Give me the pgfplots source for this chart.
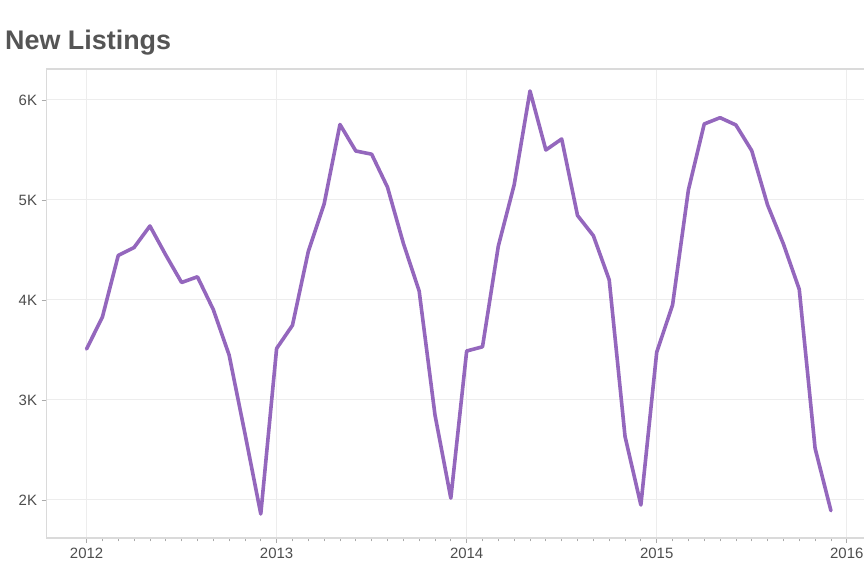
\documentclass[border=0pt]{standalone}
\usepackage{pgfplots}
\pgfplotsset{compat=1.18}
\usepackage{pgfplotstable}
\usepackage{fontspec}
\setmainfont{Liberation Sans}
\definecolor{linepurple}{HTML}{9467BD}
\definecolor{framegray}{HTML}{DADADA}
\definecolor{gridgray}{HTML}{EDEDED}
\definecolor{tickgray}{HTML}{AAAAAA}
\definecolor{ticktext}{HTML}{4D4D4D}
\definecolor{titlegray}{HTML}{555555}

% month index (0 = Jan 2012) and new listings
\pgfplotstableread{
m v
0 3510
1 3830
2 4445
3 4525
4 4740
5 4450
6 4175
7 4232
8 3905
9 3450
10 2665
11 1860
12 3515
13 3747
14 4485
15 4960
16 5755
17 5490
18 5458
19 5128
20 4568
21 4090
22 2850
23 2018
24 3490
25 3532
26 4540
27 5152
28 6090
29 5500
30 5610
31 4845
32 4643
33 4202
34 2635
35 1950
36 3478
37 3950
38 5100
39 5760
40 5823
41 5750
42 5493
43 4950
44 4560
45 4107
46 2517
47 1893
}\listings

\begin{document}
\begin{tikzpicture}[x=1bp,y=1bp]
\useasboundingbox (0,0) rectangle (864,576);
\node[anchor=base west, inner sep=0pt, text=titlegray, font=\fontsize{27}{32}\selectfont\bfseries] at (5,526) {New Listings};
\begin{scope}
\clip (0,0) rectangle (864,576);
\begin{axis}[
  at={(46.5bp,38bp)}, anchor=south west,
  scale only axis, width=824bp, height=469bp,
  xmin=-2.53, xmax=49.5, ymin=1620, ymax=6310,
  xtick={0,12,24,36,48}, xticklabels={2012,2013,2014,2015,2016},
  minor x tick num=11,
  ytick={2000,3000,4000,5000,6000}, yticklabels={2K,3K,4K,5K,6K},
  xtick pos=bottom, ytick pos=left,
  tick align=outside,
  major tick length=5bp, minor tick length=3.5bp,
  every tick/.style={tickgray, line width=0.8bp},
  axis line style={framegray, line width=1.3bp},
  grid=major, major grid style={gridgray, line width=1bp},
  minor grid style={draw=none},
  tick label style={text=ticktext, font=\fontsize{15}{18}\selectfont},
  xticklabel style={yshift=-2bp},
  yticklabel style={xshift=-1bp},
]
\addplot[linepurple, line width=3.6bp, line join=round, line cap=round] table[x=m, y=v] {\listings};
\end{axis}
\end{scope}
\end{tikzpicture}
\end{document}
